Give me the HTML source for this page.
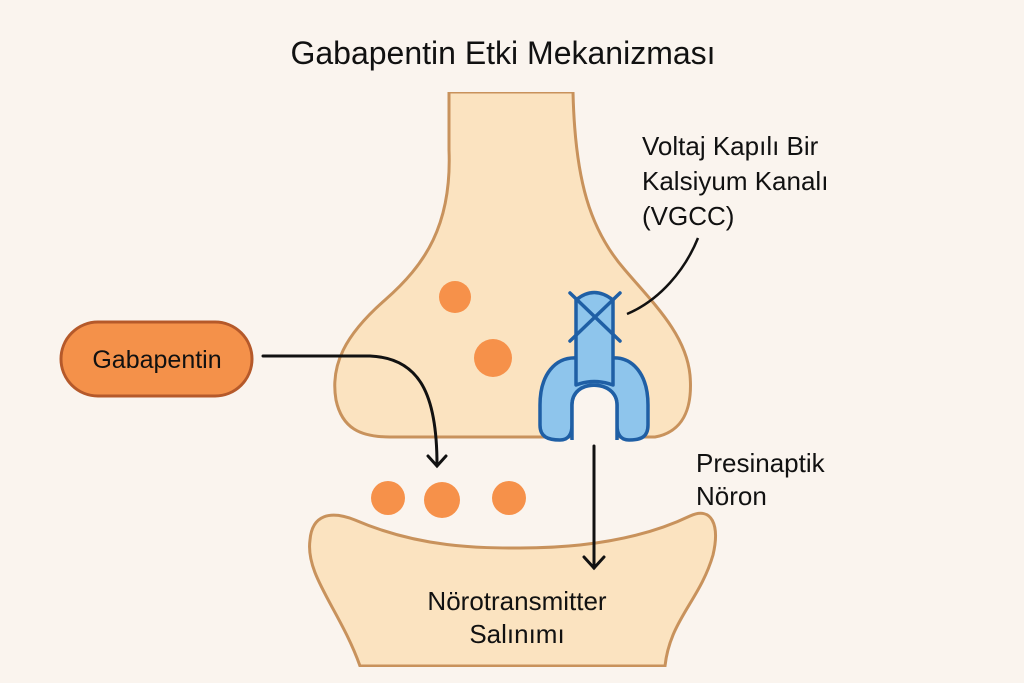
<!DOCTYPE html>
<html><head><meta charset="utf-8"><style>
html,body{margin:0;padding:0;background:#faf4ee;}
svg{display:block;font-family:"Liberation Sans","DejaVu Sans",sans-serif;}
</style></head><body>
<svg width="1024" height="683" viewBox="0 0 1024 683">
<rect width="1024" height="683" fill="#faf4ee"/>
<text x="503" y="64" font-size="32" text-anchor="middle" fill="#111">Gabapentin Etki Mekanizması</text>
<path d="M449 92 L449 150 C452 225 425 265 385 300 C345 335 330 365 336 400 C342 428 360 437 390 437 L655 437 C682 432 693 410 690 375 C686 335 655 305 625 270 C590 230 575 180 573 92 Z" fill="#fbe3c0" stroke="#c8925c" stroke-width="3"/>
<rect x="447" y="80" width="130" height="12" fill="#faf4ee"/>
<path d="M360 666 C340 610 305 575 310 540 C312 515 330 510 355 520 C420 548 480 548 520 548 C580 548 640 540 690 516 C712 506 720 525 713 555 C700 600 670 620 665 666 Z" fill="#fbe3c0" stroke="#c8925c" stroke-width="3"/>
<rect x="300" y="667" width="430" height="16" fill="#faf4ee"/>
<g fill="#f6914a">
<circle cx="455" cy="297" r="16"/>
<circle cx="493" cy="358" r="19"/>
<circle cx="388" cy="498" r="17"/>
<circle cx="442" cy="500" r="18"/>
<circle cx="509" cy="498" r="17"/>
</g>
<g fill="#8ec5ec" stroke="#1f5fa5" stroke-width="3.5" stroke-linejoin="round">
<path d="M578 358 C555 356 540 375 540 405 L540 425 C540 437 548 440 560 440 C570 440 572 432 572 425 L572 405 C572 392 582 387 594 387 C606 387 617 392 617 405 L617 425 C617 432 619 440 629 440 C641 440 648 437 648 425 L648 405 C648 375 633 356 611 358 Z"/>
<path d="M576 300 Q594 285 613 300 L613 385 Q594 378 576 385 Z"/>
</g>
<path d="M573.5 441 L573.5 405 C573.5 394 582 387 594 387 C606 387 615.5 394 615.5 405 L615.5 441 Z" fill="#faf4ee"/>
<path d="M572 440 L572 405 C572 392 582 385 594 385 C606 385 617 392 617 405 L617 440" fill="none" stroke="#1f5fa5" stroke-width="3.5"/>
<g stroke="#1f5fa5" stroke-width="3.5" stroke-linecap="round">
<line x1="570" y1="293" x2="620" y2="341"/>
<line x1="620" y1="293" x2="570" y2="341"/>
</g>
<path d="M627 314 C660 300 685 270 698 238" fill="none" stroke="#111" stroke-width="2.5"/>
<rect x="61" y="322" width="191" height="74" rx="37" fill="#f4914a" stroke="#b5592a" stroke-width="3"/>
<text x="157" y="368" font-size="25" text-anchor="middle" fill="#111">Gabapentin</text>
<g fill="none" stroke="#111" stroke-width="3" stroke-linecap="round">
<path d="M263 356 L370 356 C420 358 437 395 437 465"/>
<path d="M428 456 L437 466 L446 456"/>
<line x1="594" y1="446" x2="594" y2="568"/>
<path d="M584 557 L594 568 L604 557"/>
</g>
<g font-size="26" fill="#111">
<text x="642" y="155">Voltaj Kapılı Bir</text>
<text x="642" y="190">Kalsiyum Kanalı</text>
<text x="642" y="225">(VGCC)</text>
<text x="696" y="472">Presinaptik</text>
<text x="696" y="505">Nöron</text>
<text x="517" y="610" text-anchor="middle">Nörotransmitter</text>
<text x="517" y="643" text-anchor="middle">Salınımı</text>
</g>
</svg>
</body></html>
